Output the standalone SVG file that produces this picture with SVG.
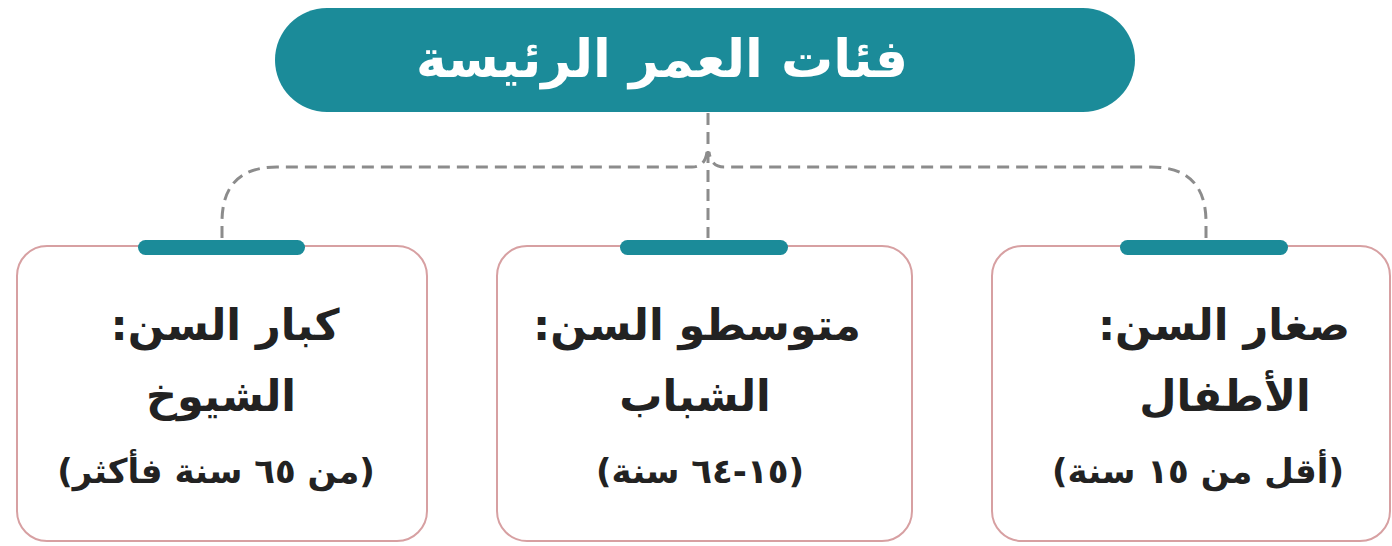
<svg xmlns="http://www.w3.org/2000/svg" width="1392" height="546" viewBox="0 0 1392 546">
<style>
.box{fill:#ffffff;stroke:#d7a0a2;stroke-width:2}
.bar{fill:#1b8b99}
.conn{fill:none;stroke:#8c8c8c;stroke-width:3;stroke-dasharray:12 7}
.t{font-family:"DejaVu Sans","Noto Sans",sans-serif;font-weight:bold;fill:#222;text-anchor:middle;direction:rtl}
.l1{font-size:43px}
.l2{font-size:43px}
.l3{font-size:34px}
.title{font-family:"DejaVu Sans","Noto Sans",sans-serif;font-weight:bold;fill:#ffffff;font-size:52px;text-anchor:middle;direction:rtl}
</style>
<rect width="1392" height="546" fill="#ffffff"/>
<g id="connectors">
<path class="conn" d="M708 113 V238"/>
<path class="conn" d="M222 238 V222 Q222 167 277 167 H692 Q705 167 707 152"/>
<path class="conn" d="M1206 238 V222 Q1206 167 1151 167 H724 Q711 167 709 152"/>
</g>
<g id="title">
<rect x="275" y="8" width="860" height="104" rx="52" fill="#1b8b99"/>
<text class="title" x="662" y="77">فئات العمر الرئيسة</text>
</g>
<g id="node-elderly">
<rect class="box" x="17" y="246" width="410" height="295" rx="30"/>
<rect class="bar" x="138" y="240" width="167" height="15" rx="7.5"/>
<text class="t l1" x="225" y="340">كبار السن:</text>
<text class="t l2" x="221" y="411">الشيوخ</text>
<text class="t l3" x="216" y="483">(من ٦٥ سنة فأكثر)</text>
</g>
<g id="node-adults">
<rect class="box" x="497" y="246" width="415" height="295" rx="30"/>
<rect class="bar" x="620" y="240" width="168" height="15" rx="7.5"/>
<text class="t l1" x="697" y="340">متوسطو السن:</text>
<text class="t l2" x="695" y="411">الشباب</text>
<text class="t l3" x="700" y="483">(١٥-٦٤ سنة)</text>
</g>
<g id="node-children">
<rect class="box" x="992" y="246" width="398" height="295" rx="30"/>
<rect class="bar" x="1120" y="240" width="168" height="15" rx="7.5"/>
<text class="t l1" x="1224" y="340">صغار السن:</text>
<text class="t l2" x="1225" y="411">الأطفال</text>
<text class="t l3" x="1198" y="483">(أقل من ١٥ سنة)</text>
</g>
</svg>
